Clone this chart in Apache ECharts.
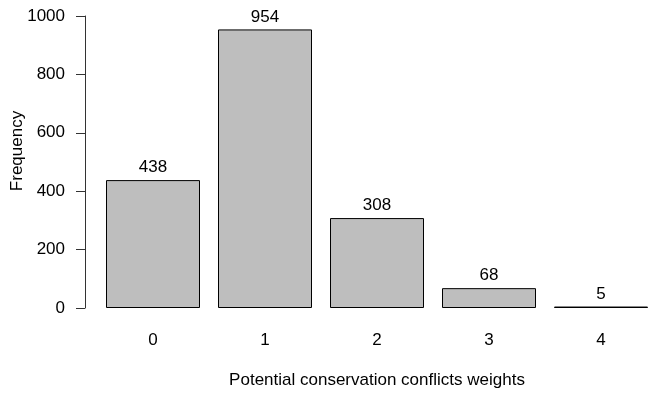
<!DOCTYPE html>
<html>
<head>
<meta charset="utf-8">
<script src="https://cdn.jsdelivr.net/npm/echarts@6/dist/echarts.min.js"></script>
<style>
html,body{margin:0;padding:0;background:#fff;}
#c{width:648px;height:395px;}
</style>
</head>
<body>
<div id="c"></div>
<script>
const categories = ['0', '1', '2', '3', '4'];
const frequencies = [438, 954, 308, 68, 5];
const yTicks = [0, 200, 400, 600, 800, 1000];
const xTitle = 'Potential conservation conflicts weights';
const yTitle = 'Frequency';

const chart = echarts.init(document.getElementById('c'), null, {renderer: 'canvas'});
const font = 'Liberation Sans, Arial, sans-serif';
const fs = 17;
chart.setOption({
  animation: false,
  backgroundColor: '#ffffff',
  grid: {left: 97, top: 16, width: 560, height: 292, containLabel: false, outerBoundsMode: 'none'},
  xAxis: {
    type: 'category',
    data: categories,
    boundaryGap: true,
    axisLine: {show: false},
    axisTick: {show: false},
    axisLabel: {fontSize: fs, color: '#000', fontFamily: font, margin: 24},
    name: xTitle,
    nameLocation: 'middle',
    nameGap: 64,
    nameMoveOverlap: false,
    nameTextStyle: {fontSize: fs, color: '#000', fontFamily: font}
  },
  yAxis: {
    type: 'value',
    min: yTicks[0],
    max: yTicks[yTicks.length - 1],
    interval: 200,
    offset: 12,
    axisLine: {show: true, lineStyle: {color: '#333', width: 1}},
    axisTick: {show: true, length: 9, lineStyle: {color: '#333', width: 1}},
    splitLine: {show: false},
    axisLabel: {fontSize: fs, color: '#000', fontFamily: font, margin: 20, formatter: function (v) { return String(v); }},
    name: yTitle,
    nameLocation: 'middle',
    nameGap: 59,
    nameMoveOverlap: false,
    nameTextStyle: {fontSize: fs, color: '#000', fontFamily: font, padding: [0, 0, 0, 22]}
  },
  series: [{
    type: 'bar',
    data: frequencies,
    barWidth: 94,
    itemStyle: {color: '#bebebe', borderColor: '#000', borderWidth: 1},
    label: {show: true, position: 'top', distance: 4, fontSize: fs, color: '#000', fontFamily: font}
  }]
});
</script>
</body>
</html>
